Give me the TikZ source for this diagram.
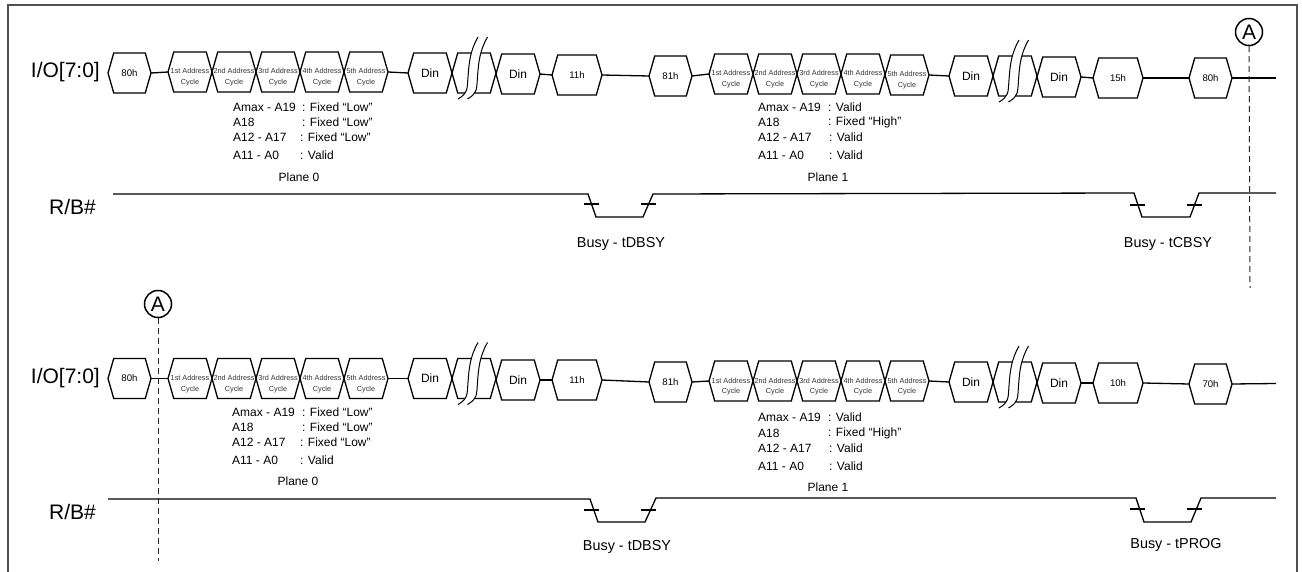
\documentclass[tikz,border=0pt]{standalone}
\usepackage{fontspec}
\setmainfont{Liberation Sans}
\usepackage{tikz}
\usetikzlibrary{positioning,shapes.symbols}
\definecolor{framegray}{HTML}{505050}
\newcommand{\cycletext}[1]{\makebox[0pt]{\raisebox{-2pt}[0pt][0pt]{#1 Address}}\makebox[0pt]{\raisebox{-12.5pt}[0pt][0pt]{Cycle}}}
\tikzset{
    hexbox/.style={signal, signal to=east and west, signal pointer angle=148, draw=black,
        line width=1.3pt, inner sep=0pt, outer sep=0pt, minimum height=40pt, fill=white},
    cmdbox/.style={hexbox, minimum width=50pt, font=\fontsize{9.6}{11}\selectfont},
    bytebox/.style={hexbox, minimum width=43pt, font=\fontsize{9.6}{11}\selectfont},
    dinbox/.style={hexbox, minimum width=44pt, font=\fontsize{12}{14}\selectfont},
    addrbox/.style={hexbox, minimum width=44pt, font=\fontsize{7.3}{9}\selectfont, text=black!80},
    signame/.style={font=\fontsize{21}{24}\selectfont},
    note/.style={anchor=west, inner sep=0pt, font=\fontsize{12}{14}\selectfont},
    planelabel/.style={inner sep=0pt, font=\fontsize{12}{14}\selectfont},
    busylabel/.style={inner sep=0pt, font=\fontsize{14.4}{16}\selectfont},
    marker/.style={circle, draw=black, line width=1.5pt, minimum size=27pt, inner sep=0pt,
        font=\fontsize{21}{24}\selectfont},
    wire/.style={line width=1.3pt, draw=black},
    cutline/.style={dash pattern=on 6pt off 4pt, line width=1pt, draw=black!85},
    breakmark/.pic={
        \fill[white] (4,-36) .. controls (-4,-22) and (-5,-10) .. (-6,4) .. controls (-7,17) and (-6,20) .. (-16,26)
            -- (-6.5,26) .. controls (3.5,20) and (2.5,17) .. (3.5,4) .. controls (4.5,-10) and (5.5,-22) .. (13.5,-36) -- cycle;
        \draw[line width=1pt] (4,-36) .. controls (-4,-22) and (-5,-10) .. (-6,4) .. controls (-7,17) and (-6,20) .. (-16,26);
        \draw[line width=1pt] (13.5,-36) .. controls (5.5,-22) and (4.5,-10) .. (3.5,4) .. controls (2.5,17) and (3.5,20) .. (-6.5,26);
    }
}

\begin{document}
\begin{tikzpicture}[x=1pt,y=-1pt]
    \useasboundingbox (0,0) rectangle (1302,572);
    \draw[framegray, line width=1.5pt] (8,572) -- (8,5) -- (1297,5) -- (1297,572);

    % first row
    \node[signame, anchor=east, inner sep=0pt] (ioA) at (100,72) {I/O[7:0]};
    \node[bytebox] (hA) at (129.5,73) {80h};
    \node[addrbox, right=17pt of hA, yshift=1pt] (aA) {\cycletext{1st}};
    \node[addrbox, right=0pt of aA] (bA) {\cycletext{2nd}};
    \node[addrbox, right=0pt of bA] (cA) {\cycletext{3rd}};
    \node[addrbox, right=0pt of cA] (dA) {\cycletext{4th}};
    \node[addrbox, right=0pt of dA] (eA) {\cycletext{5th}};
    \node[dinbox, right=20pt of eA, yshift=-1pt] (dinA) {Din};
    \node[dinbox, right=0pt of dinA] (gapA) {};
    \node[dinbox, right=0pt of gapA, yshift=-1pt] (dinB) {Din};
    \node[cmdbox, right=12pt of dinB, yshift=-1pt] (cmdA) {11h};
    \node[bytebox, right=47pt of cmdA, yshift=-1pt] (cmdB) {81h};
    \node[addrbox, right=17pt of cmdB, yshift=2pt] (aB) {\cycletext{1st}};
    \node[addrbox, right=0pt of aB] (bB) {\cycletext{2nd}};
    \node[addrbox, right=0pt of bB] (cB) {\cycletext{3rd}};
    \node[addrbox, right=0pt of cB] (dB) {\cycletext{4th}};
    \node[addrbox, right=0pt of dB, yshift=-1pt] (eB) {\cycletext{5th}};
    \node[dinbox, right=20pt of eB, yshift=-1pt] (dinC) {Din};
    \node[dinbox, right=0pt of dinC] (gapB) {};
    \node[dinbox, right=0pt of gapB, yshift=-1pt] (dinD) {Din};
    \node[cmdbox, right=12pt of dinD, yshift=-1pt] (cmdC) {15h};
    \node[bytebox, right=46pt of cmdC] (cmdD) {80h};
    \coordinate (endA) at (1276,78);
    \draw[wire] (hA.east) -- (aA.west);
    \draw[wire] (eA.east) -- (dinA.west);
    \draw[wire] (dinB.east) -- (cmdA.west);
    \draw[wire] (cmdA.east) -- (cmdB.west);
    \draw[wire] (cmdB.east) -- (aB.west);
    \draw[wire] (eB.east) -- (dinC.west);
    \draw[wire] (dinD.east) -- (cmdC.west);
    \draw[wire] (cmdC.east) -- (cmdD.west);
    \draw[wire] (cmdD.east) -- (endA);
    \pic at (gapA.center) {breakmark};
    \pic at (gapB.center) {breakmark};

    \node[note] (lowA) at (233,107) {Amax - A19};
    \node[note] (lowAv) at (302,107) {: Fixed “Low”};
    \node[note] (lowB) at (233,122.5) {A18};
    \node[note] (lowBv) at (302,122.5) {: Fixed “Low”};
    \node[note] (lowC) at (233,137) {A12 - A17};
    \node[note] (lowCv) at (300,137) {: Fixed “Low”};
    \node[note] (lowD) at (233,155.5) {A11 - A0};
    \node[note] (lowDv) at (300,155.5) {: Valid};
    \node[planelabel] (planeA) at (299,177.5) {Plane 0};
    \node[note] (highA) at (758,107) {Amax - A19};
    \node[note] (highAv) at (828,107) {: Valid};
    \node[note] (highB) at (758,122) {A18};
    \node[note] (highBv) at (828,122) {: Fixed “High”};
    \node[note] (highC) at (758,137) {A12 - A17};
    \node[note] (highCv) at (829,137) {: Valid};
    \node[note] (highD) at (758,155.5) {A11 - A0};
    \node[note] (highDv) at (829,155.5) {: Valid};
    \node[planelabel] (planeB) at (828,177) {Plane 1};

    \node[signame, anchor=east, inner sep=0pt] (rbA) at (96,207) {R/B\#};
    \draw[wire] (113,194) -- (588,194) -- (596,217) -- (643,217) -- (653,194) -- (1134,193)
        -- (1142,217) -- (1190,217) -- (1199,193) -- (1276,193);
    \draw[wire] (584,204) -- (599,204);
    \draw[wire] (641,204) -- (656,204);
    \draw[wire] (1130,205) -- (1145,205);
    \draw[wire] (1187,205) -- (1202,205);
    \node[busylabel] (busyA) at (621,244) {Busy - tDBSY};
    \node[busylabel] (busyB) at (1168,244) {Busy - tCBSY};

    \node[marker] (markA) at (1249,32) {A};
    \coordinate (cutA) at (1250,288);
    \draw[cutline] (markA) -- (cutA);

    % second row
    \node[signame, anchor=east, inner sep=0pt] (ioB) at (100,378) {I/O[7:0]};
    \node[bytebox] (hC) at (129.5,378.5) {80h};
    \node[addrbox, right=17pt of hC] (aC) {\cycletext{1st}};
    \node[addrbox, right=0pt of aC] (bC) {\cycletext{2nd}};
    \node[addrbox, right=0pt of bC] (cC) {\cycletext{3rd}};
    \node[addrbox, right=0pt of cC] (dC) {\cycletext{4th}};
    \node[addrbox, right=0pt of dC] (eC) {\cycletext{5th}};
    \node[dinbox, right=20pt of eC] (dinE) {Din};
    \node[dinbox, right=0pt of dinE] (gapC) {};
    \node[dinbox, right=0pt of gapC, yshift=-1.5pt] (dinF) {Din};
    \node[cmdbox, right=12pt of dinF] (cmdE) {11h};
    \node[bytebox, right=47pt of cmdE, yshift=-2pt] (cmdF) {81h};
    \node[addrbox, right=17pt of cmdF, yshift=1pt] (aD) {\cycletext{1st}};
    \node[addrbox, right=0pt of aD] (bD) {\cycletext{2nd}};
    \node[addrbox, right=0pt of bD] (cD) {\cycletext{3rd}};
    \node[addrbox, right=0pt of cD] (dD) {\cycletext{4th}};
    \node[addrbox, right=0pt of dD] (eD) {\cycletext{5th}};
    \node[dinbox, right=20pt of eD, yshift=-1pt] (dinG) {Din};
    \node[dinbox, right=0pt of dinG] (gapD) {};
    \node[dinbox, right=0pt of gapD, yshift=-1pt] (dinH) {Din};
    \node[cmdbox, right=12pt of dinH] (cmdG) {10h};
    \node[bytebox, right=46pt of cmdG, yshift=-1pt] (cmdH) {70h};
    \coordinate (endB) at (1276,383.5);
    \draw[wire] (hC.east) -- (aC.west);
    \draw[wire] (eC.east) -- (dinE.west);
    \draw[wire] (dinF.east) -- (cmdE.west);
    \draw[wire] (cmdE.east) -- (cmdF.west);
    \draw[wire] (cmdF.east) -- (aD.west);
    \draw[wire] (eD.east) -- (dinG.west);
    \draw[wire] (dinH.east) -- (cmdG.west);
    \draw[wire] (cmdG.east) -- (cmdH.west);
    \draw[wire] (cmdH.east) -- (endB);
    \pic at (gapC.center) {breakmark};
    \pic at (gapD.center) {breakmark};

    \node[note] (lowE) at (232,412) {Amax - A19};
    \node[note] (lowEv) at (302,412) {: Fixed “Low”};
    \node[note] (lowF) at (232,427) {A18};
    \node[note] (lowFv) at (302,427) {: Fixed “Low”};
    \node[note] (lowG) at (232,442) {A12 - A17};
    \node[note] (lowGv) at (300,442) {: Fixed “Low”};
    \node[note] (lowH) at (232,460) {A11 - A0};
    \node[note] (lowHv) at (300,460) {: Valid};
    \node[planelabel] (planeC) at (298,481) {Plane 0};
    \node[note] (highE) at (758,417) {Amax - A19};
    \node[note] (highEv) at (828,417) {: Valid};
    \node[note] (highF) at (758,433) {A18};
    \node[note] (highFv) at (828,433) {: Fixed “High”};
    \node[note] (highG) at (758,448) {A12 - A17};
    \node[note] (highGv) at (829,448) {: Valid};
    \node[note] (highH) at (758,466) {A11 - A0};
    \node[note] (highHv) at (829,466) {: Valid};
    \node[planelabel] (planeD) at (828,487) {Plane 1};

    \node[signame, anchor=east, inner sep=0pt] (rbB) at (96,512) {R/B\#};
    \draw[wire] (108,499) -- (590,499) -- (598,522) -- (645,522) -- (656,498) -- (1136,498)
        -- (1144,522) -- (1191,522) -- (1201,498) -- (1276,498);
    \draw[wire] (584,510) -- (599,510);
    \draw[wire] (641,510) -- (656,510);
    \draw[wire] (1130,509) -- (1145,509);
    \draw[wire] (1187,509) -- (1202,509);
    \node[busylabel] (busyC) at (627,547) {Busy - tDBSY};
    \node[busylabel] (busyD) at (1176,545) {Busy - tPROG};

    \node[marker] (markB) at (158,304) {A};
    \coordinate (cutB) at (158,561);
    \draw[cutline] (markB) -- (cutB);
\end{tikzpicture}
\end{document}
